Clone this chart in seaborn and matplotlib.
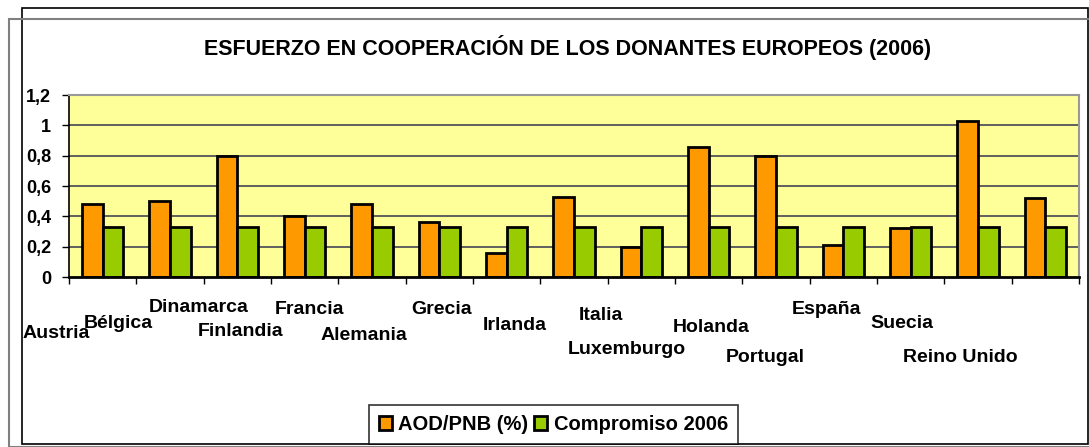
import pandas as pd
import matplotlib.pyplot as plt
import seaborn as sns
from matplotlib.patches import Rectangle

# Data
paises = ["Austria", "Bélgica", "Dinamarca", "Finlandia", "Francia", "Alemania", "Grecia",
          "Irlanda", "Italia", "Luxemburgo", "Holanda", "Portugal", "España", "Suecia", "Reino Unido"]
aod_pnb = [0.48, 0.50, 0.80, 0.40, 0.48, 0.36, 0.16, 0.53, 0.20, 0.86, 0.80, 0.21, 0.32, 1.03, 0.52]
compromiso = [0.33] * len(paises)
series = ["AOD/PNB (%)", "Compromiso 2006"]
yticks = [0, 0.2, 0.4, 0.6, 0.8, 1.0, 1.2]
ytick_labels = ["0", "0,2", "0,4", "0,6", "0,8", "1", "1,2"]

# Excel-style staggered category labels: (dx pixels, dy pixels) from each tick centre
label_offsets = [(-46, -56), (-52, -46), (-39, -30), (-64, -55), (-63, -33), (-75, -59), (-65, -33),
                 (-59, -48), (-40, -38), (-82, -72), (-65, -51), (-78, -80), (-84, -33), (-76, -46), (-85, -81)]

df = pd.DataFrame({
    "pais": paises * 2,
    "serie": [series[0]] * len(paises) + [series[1]] * len(paises),
    "valor": aod_pnb + compromiso,
})

sns.set_style("white")
plt.rcParams["font.family"] = ["Liberation Sans", "DejaVu Sans"]
plt.rcParams["font.weight"] = "bold"
plt.rcParams["text.color"] = "black"
plt.rcParams["ytick.color"] = "black"
plt.rcParams["xtick.color"] = "black"

fig = plt.figure(figsize=(10.89, 4.47), dpi=100)
ax = fig.add_axes([69 / 1089, 1 - 277 / 447, 1010 / 1089, 182 / 447])

sns.barplot(data=df, x="pais", y="valor", hue="serie", order=paises,
            palette=["#FF9900", "#99CC00"], width=0.61, gap=0,
            edgecolor="black", linewidth=2, saturation=1, ax=ax, legend=True)

ax.set_facecolor("#FFFF99")
ax.set_ylim(0, 1.2)
ax.set_xlim(-0.5, len(paises) - 0.5)
ax.set_yticks(yticks)
ax.set_yticklabels(ytick_labels, fontsize=13, fontweight="bold", color="black")
for y in yticks[1:]:
    ax.axhline(y, color="#5f5f5f", lw=1.4, zorder=0.5)
ax.set_xlabel("")
ax.set_ylabel("")

# ticks between categories
ax.set_xticks([i - 0.5 for i in range(len(paises) + 1)])
ax.set_xticklabels([])
ax.tick_params(axis="x", direction="out", length=5, width=1, color="black", bottom=True)
ax.tick_params(axis="y", direction="out", length=5, width=1, color="black", left=True, pad=8)

for side in ["top", "right"]:
    ax.spines[side].set_color("#999999")
    ax.spines[side].set_linewidth(1.5)
ax.spines["left"].set_color("black")
ax.spines["bottom"].set_color("black")
ax.spines["left"].set_linewidth(1.2)
ax.spines["bottom"].set_linewidth(2)

for i, (name, (dx, dy)) in enumerate(zip(paises, label_offsets)):
    ax.annotate(name, xy=(i, 0), xycoords=("data", "axes fraction"),
                xytext=(dx, dy), textcoords="offset pixels",
                ha="center", va="center", fontsize=14, fontweight="bold", color="black")

fig.text(568 / 1089, 1 - 48 / 447, "ESFUERZO EN COOPERACIÓN DE LOS DONANTES EUROPEOS (2006)",
         ha="center", va="center", fontsize=15.5, fontweight="bold", color="black")

handles, labels = ax.get_legend_handles_labels()
ax.legend_.remove()
leg = fig.legend(handles, labels, loc="upper left", bbox_to_anchor=(369 / 1089, 1 - 405 / 447),
                 ncol=2, frameon=True, fancybox=False, prop={"weight": "bold", "size": 14.5},
                 handlelength=0.65, handleheight=0.65, handletextpad=0.3, columnspacing=0.3,
                 borderpad=0.5, borderaxespad=0)
leg.get_frame().set_edgecolor("black")
leg.get_frame().set_linewidth(1.2)
for t in leg.get_texts():
    t.set_color("black")

# outer chart frames
fig.patches.append(Rectangle((22 / 1089, 1 - 444 / 447), 1066 / 1089, 436 / 447,
                             transform=fig.transFigure, fill=False, edgecolor="black", lw=1.2))
fig.patches.append(Rectangle((9 / 1089, 1 - 447 / 447), 1090 / 1089, 428 / 447,
                             transform=fig.transFigure, fill=False, edgecolor="#808080", lw=1.5))

fig.savefig("out.png", dpi=100)
